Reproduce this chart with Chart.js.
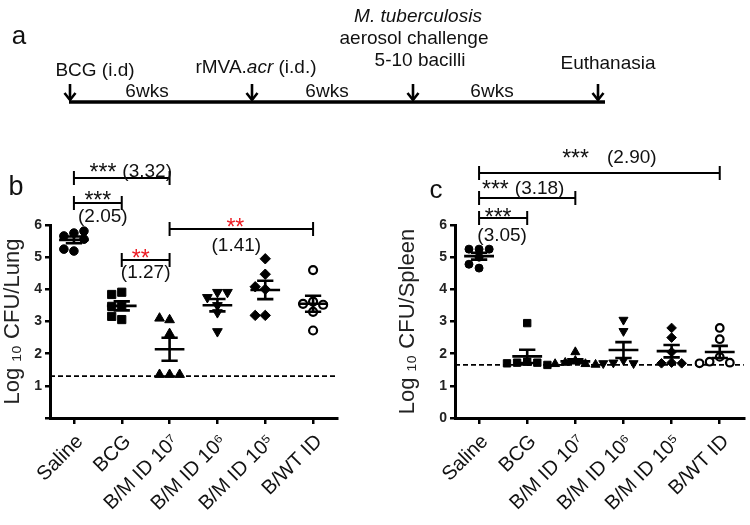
<!DOCTYPE html>
<html>
<head>
<meta charset="utf-8">
<script src="https://cdn.jsdelivr.net/npm/chart.js@4.4.1/dist/chart.umd.min.js"></script>
<style>
  body { margin: 0; background: #fff; }
  #wrap { position: relative; width: 750px; height: 525px; overflow: hidden;
          font-family: 'Liberation Sans', Arial, sans-serif; color: #111; }
  canvas { position: absolute; top: 0; }
  svg { position: absolute; left: 0; top: 0; }
  .t { position: absolute; font-size: 19px; line-height: 1; white-space: nowrap;
       transform: translate(-50%, -50%); }
</style>
</head>
<body>
<div id="wrap">
  <canvas id="lungChart" width="375" height="525" style="left:0"></canvas>
  <canvas id="spleenChart" width="375" height="525" style="left:375px"></canvas>

  <!-- panel a: timeline -->
  <svg width="750" height="110">
    <g stroke="#000" stroke-width="2.6" fill="none" stroke-linecap="butt">
      <line x1="69" y1="102" x2="605" y2="102" stroke-width="3.5"/>
      <line x1="70" y1="84" x2="70" y2="100"/><polyline points="64.5,93 70,100 75.5,93"/>
      <line x1="252" y1="84" x2="252" y2="100"/><polyline points="246.5,93 252,100 257.5,93"/>
      <line x1="413" y1="84" x2="413" y2="100"/><polyline points="407.5,93 413,100 418.5,93"/>
      <line x1="598" y1="84" x2="598" y2="100"/><polyline points="592.5,93 598,100 603.5,93"/>
    </g>
  </svg>
  <div class="t" style="left:19px;top:35px;font-size:26px">a</div>
  <div class="t" style="left:95px;top:69px">BCG (i.d)</div>
  <div class="t" style="left:256px;top:66px">rMVA.<i>acr</i> (i.d.)</div>
  <div class="t" style="left:418px;top:15px"><i>M. tuberculosis</i></div>
  <div class="t" style="left:414px;top:37px">aerosol challenge</div>
  <div class="t" style="left:420px;top:59px">5-10 bacilli</div>
  <div class="t" style="left:608px;top:62px">Euthanasia</div>
  <div class="t" style="left:147px;top:90px">6wks</div>
  <div class="t" style="left:327px;top:90px">6wks</div>
  <div class="t" style="left:492px;top:90px">6wks</div>

  <div class="t" style="left:16px;top:186px;font-size:27px">b</div>
  <div class="t" style="left:436px;top:189px;font-size:26px">c</div>
</div>

<script>
// ---- data ----
const groups = ['Saline', 'BCG', 'B/M ID 10⁷', 'B/M ID 10⁶', 'B/M ID 10⁵', 'B/WT ID'];

// log10 CFU per lung
const lungSaline = [5.75, 5.66, 5.81, 5.56, 5.19, 5.25];
const lungBCG    = [3.91, 3.84, 3.47, 3.47, 3.06, 3.16];
const lungBM7    = [3.05, 3.10, 2.62, 1.35, 1.35, 1.35];
const lungBM6    = [3.91, 3.75, 3.91, 3.50, 3.28, 2.69];
const lungBM5    = [4.95, 4.47, 4.00, 4.08, 3.19, 3.19];
const lungWT     = [4.60, 3.62, 3.55, 3.52, 3.30, 2.72];
const lungLimit  = 1.3;

// log10 CFU per spleen
const spleenSaline = [5.25, 5.25, 5.25, 5.00, 4.78, 4.66];
const spleenBCG    = [2.95, 1.75, 1.72, 1.72, 1.70, 1.65];
const spleenBM7    = [2.05, 1.78, 1.72, 1.68, 1.68, 1.66];
const spleenBM6    = [3.05, 2.70, 1.80, 1.72, 1.70, 1.70];
const spleenBM5    = [2.80, 2.50, 2.05, 1.72, 1.70, 1.70];
const spleenWT     = [2.80, 2.45, 1.90, 1.75, 1.72, 1.70];
const spleenLimit  = 1.65;

// significance brackets: [from group, to group, stars, fold]
const lungSig   = [[0, 2, '***', '3.32'], [0, 1, '***', '2.05'], [1, 2, '**', '1.27'], [2, 5, '**', '1.41']];
const spleenSig = [[0, 5, '***', '2.90'], [0, 2, '***', '3.18'], [0, 1, '***', '3.05']];

// ---- drawing ----
Chart.defaults.font.family = "'Liberation Sans', Arial, sans-serif";
Chart.defaults.color = '#111';

const shapes = ['circle', 'rect', 'triangle', 'triangle', 'rectRot', 'circle'];
const RED = '#ec1c24';
const STAR_FONT = "23px 'Liberation Sans', Arial, sans-serif";
const NUM_FONT = "19px 'Liberation Sans', Arial, sans-serif";

// simple beeswarm so markers with close values sit side by side
function swarm(vals, gap, step) {
  var placed = [];
  return vals.map(function (v) {
    var cands = [0, -step, step, -2 * step, 2 * step];
    for (var k = 0; k < cands.length; k++) {
      var c = cands[k];
      if (!placed.some(p => p.x === c && Math.abs(p.y - v) < gap)) {
        placed.push({ x: c, y: v });
        return c;
      }
    }
    return 0;
  });
}

function stats(vals) {
  var n = vals.length;
  var m = vals.reduce((a, b) => a + b, 0) / n;
  var sd = Math.sqrt(vals.reduce((a, b) => a + (b - m) * (b - m), 0) / (n - 1));
  return { mean: m, sem: sd / Math.sqrt(n) };
}

function buildSets(data, sizes) {
  return data.map(function (vals, g) {
    var off = swarm(vals, 0.22, 0.21);
    return {
      data: vals.map((v, i) => ({ x: g + 1 + off[i], y: v })),
      pointStyle: shapes[g],
      rotation: g === 3 ? 180 : 0,
      pointRadius: sizes[g],
      backgroundColor: g === 5 ? '#fff' : '#000',
      borderColor: '#000',
      borderWidth: g === 5 ? 2.2 : 1,
      showLine: false
    };
  });
}

function extras(data, limit, sig, layout) {
  return {
    id: 'extras',
    beforeDatasetsDraw(chart) {
      var ctx = chart.ctx, a = chart.chartArea;
      var yy = chart.scales.y.getPixelForValue(limit);
      ctx.save();
      ctx.strokeStyle = '#000';
      ctx.lineWidth = 1.8;
      ctx.setLineDash([5, 3]);
      ctx.beginPath();
      ctx.moveTo(a.left, yy);
      ctx.lineTo(a.right, yy);
      ctx.stroke();
      ctx.restore();
    },
    afterDatasetsDraw(chart) {
      var ctx = chart.ctx, x = chart.scales.x, y = chart.scales.y;
      ctx.save();
      ctx.strokeStyle = '#000';
      ctx.lineWidth = 2.6;
      data.forEach(function (vals, g) {
        var s = stats(vals);
        var cx = x.getPixelForValue(g + 1);
        var hw = x.getPixelForValue(g + 1.31) - cx;
        var cw = x.getPixelForValue(g + 1.17) - cx;
        var ym = y.getPixelForValue(s.mean);
        var yt = y.getPixelForValue(s.mean + s.sem);
        var yb = y.getPixelForValue(s.mean - s.sem);
        ctx.beginPath();
        ctx.moveTo(cx - hw, ym); ctx.lineTo(cx + hw, ym);
        ctx.moveTo(cx, yt); ctx.lineTo(cx, yb);
        ctx.moveTo(cx - cw, yt); ctx.lineTo(cx + cw, yt);
        ctx.moveTo(cx - cw, yb); ctx.lineTo(cx + cw, yb);
        ctx.stroke();
      });
      ctx.restore();
    },
    afterDraw(chart) {
      var ctx = chart.ctx, x = chart.scales.x;
      ctx.save();
      ctx.strokeStyle = '#000';
      ctx.lineWidth = 2;
      ctx.textBaseline = 'alphabetic';
      sig.forEach(function (s, k) {
        var L = layout[k];
        var x1 = x.getPixelForValue(s[0] + 1), x2 = x.getPixelForValue(s[1] + 1);
        var mid = (x1 + x2) / 2;
        ctx.beginPath();
        ctx.moveTo(x1, L.y); ctx.lineTo(x2, L.y);
        ctx.moveTo(x1, L.y - 7); ctx.lineTo(x1, L.y + 7);
        ctx.moveTo(x2, L.y - 7); ctx.lineTo(x2, L.y + 7);
        ctx.stroke();
        var num = '(' + s[3] + ')';
        if (L.inline) {
          ctx.font = STAR_FONT;
          var ws = ctx.measureText(s[2]).width;
          ctx.font = NUM_FONT;
          var wn = ctx.measureText(num).width;
          var x0 = mid + L.dx - (ws + L.gap + wn) / 2;
          ctx.textAlign = 'left';
          ctx.fillStyle = '#111';
          ctx.font = STAR_FONT;
          ctx.fillText(s[2], x0, L.ty + 3);
          ctx.font = NUM_FONT;
          ctx.fillText(num, x0 + ws + L.gap, L.ty);
        } else {
          ctx.textAlign = 'center';
          ctx.font = STAR_FONT;
          ctx.fillStyle = s[2] === '**' ? RED : '#111';
          ctx.fillText(s[2], mid + L.dx, L.ty + 3);
          ctx.font = NUM_FONT;
          ctx.fillStyle = '#111';
          ctx.fillText(num, mid + L.bx, L.by);
        }
      });
      ctx.restore();
    }
  };
}

function makePanel(id, data, limit, sig, layout, title, o) {
  new Chart(document.getElementById(id), {
    type: 'scatter',
    data: { datasets: buildSets(data, o.sizes) },
    options: {
      responsive: false,
      animation: false,
      layout: { padding: { top: 225, right: o.right, left: o.left, bottom: 0 } },
      plugins: { legend: { display: false }, tooltip: { enabled: false } },
      scales: {
        x: {
          type: 'linear',
          min: 0.5,
          max: 6.5,
          afterBuildTicks: s => { s.ticks = groups.map((g, i) => ({ value: i + 1 })); },
          afterFit: s => { s.height = 107; },
          border: { display: true, color: '#000', width: 3 },
          grid: { display: true, drawOnChartArea: false, drawTicks: true, tickLength: 6, lineWidth: 2.5, color: '#000' },
          ticks: {
            autoSkip: false,
            minRotation: 45,
            maxRotation: 45,
            padding: 6,
            labelOffset: 6,
            color: '#111',
            font: { size: 20 },
            callback: v => groups[Math.round(v) - 1]
          }
        },
        y: {
          min: 0,
          max: 6,
          afterFit: s => { s.width = o.yWidth; },
          border: { display: true, color: '#000', width: 3 },
          grid: { display: true, drawOnChartArea: false, drawTicks: true, tickLength: 5, lineWidth: 2.5, color: '#000' },
          ticks: {
            stepSize: 1,
            padding: 3,
            color: '#222',
            font: { size: 14, weight: 'bold' },
            callback: v => (o.hideZero && v === 0) ? '' : v
          },
          title: { display: true, text: title, color: '#222', font: { size: 22 }, padding: { top: 0, bottom: 0 } }
        }
      }
    },
    plugins: [extras(data, limit, sig, layout)]
  });
}

makePanel('lungChart',
  [lungSaline, lungBCG, lungBM7, lungBM6, lungBM5, lungWT],
  lungLimit, lungSig,
  [
    { y: 178, inline: true, gap: 6, ty: 177, dx: 9 },
    { y: 203, ty: 205, dx: 0, by: 222, bx: 5 },
    { y: 260, ty: 263, dx: -5, by: 278, bx: 0 },
    { y: 229, ty: 232, dx: -6, by: 251, bx: -5 }
  ],
  'Log ₁₀ CFU/Lung',
  { left: 0, right: 38, yWidth: 50, hideZero: true, sizes: [4.3, 5.8, 5.6, 5.6, 5.2, 4] });

makePanel('spleenChart',
  [spleenSaline, spleenBCG, spleenBM7, spleenBM6, spleenBM5, spleenWT],
  spleenLimit, spleenSig,
  [
    { y: 173, inline: true, gap: 18, ty: 163, dx: 10 },
    { y: 198, inline: true, gap: 6, ty: 194, dx: -4 },
    { y: 218, ty: 222, dx: -5, by: 241, bx: -1 }
  ],
  'Log ₁₀ CFU/Spleen',
  { left: 20, right: 4, yWidth: 60, hideZero: false, sizes: [4, 5.2, 5.2, 5.2, 4.8, 3.8] });
</script>
</body>
</html>
